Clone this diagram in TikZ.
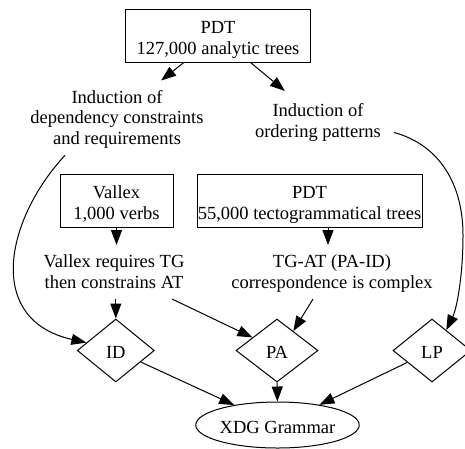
\documentclass[tikz,border=0pt]{standalone}
\usepackage{fontspec}
\setmainfont{Liberation Serif}
\usetikzlibrary{shapes.geometric,arrows.meta,calc}
\newcommand{\topst}{\rule{0pt}{20.8pt}}
\newcommand{\botst}{\rule[-4pt]{0pt}{4pt}}
\begin{document}
\begin{tikzpicture}[x=1pt,y=-1pt,
  every node/.style={font=\fontsize{18.5}{20.8}\selectfont, align=center},
  box/.style={draw, line width=1pt, inner sep=0pt, minimum height=53pt},
  txt/.style={inner xsep=10pt, inner ysep=1.5pt},
  dia/.style={draw, diamond, line width=1pt, inner sep=0pt, minimum height=63pt},
  ell/.style={draw, ellipse, line width=1pt, inner sep=0pt, minimum width=152pt, minimum height=46pt},
  edge/.style={line width=1pt, -{Triangle[length=15pt,width=11pt]}}
]
\useasboundingbox (0,0) rectangle (465,448);

\node[box, minimum width=185pt] (pdt1) at (218,35.5) {\topst PDT\\127,000 analytic trees\botst};
\node[txt] (ind1) at (117,115.4) {\topst Induction of\\dependency constraints\\and requirements\botst};
\node[txt, inner ysep=4.5pt] (ind2) at (318,118.5) {\topst Induction of\\ordering patterns\botst};
\node[box, minimum width=113pt] (vallex) at (116.5,200.5) {\topst Vallex\\1,000 verbs\botst};
\node[box, minimum width=225pt] (pdt2) at (309.5,200.5) {\topst PDT\\55,000 tectogrammatical trees\botst};
\node[txt] (vreq) at (114,269.5) {\topst Vallex requires TG\\then constrains AT\botst};
\node[txt] (tgat) at (332,269.5) {\topst TG-AT (PA-ID)\\correspondence is complex\botst};
\node[dia, minimum width=77pt] (ID) at (115.8,350.5) {\topst ID\botst};
\node[dia, minimum width=82pt] (PA) at (277,350.5) {\topst PA\botst};
\node[dia, minimum width=78pt] (LP) at (432,350.5) {\topst LP\botst};
\node[ell] (xdg) at (277.5,425) {\topst XDG Grammar\botst};

\draw[edge] (pdt1) -- (ind1);
\draw[edge] (pdt1) -- (ind2);
\draw[edge] ([xshift=-52pt,yshift=-5pt]ind1.south) .. controls (5,220) and (-15,320) .. (ID.165);
\draw[edge] ([xshift=3pt,yshift=-14pt]ind2.east) .. controls (440,145) and (463,185) .. (463,235) .. controls (463,275) and (457,308) .. (LP.55);
\draw[edge] (vallex.south) -- (vallex.south |- vreq.north);
\draw[edge] ([xshift=-4pt]tgat.north |- pdt2.south) -- ([xshift=-4pt]tgat.north);
\draw[edge] ($(ID.north |- vreq.south)+(0,5)$) -- (ID.north);
\draw[edge] ($(vreq.south)+(58,5)$) -- (PA.152);
\draw[edge] ($(tgat.south)+(-19,5)$) -- (PA.50);
\draw[edge] (ID) -- (xdg);
\draw[edge] (PA) -- (xdg);
\draw[edge] (LP) -- (xdg);
\end{tikzpicture}
\end{document}
